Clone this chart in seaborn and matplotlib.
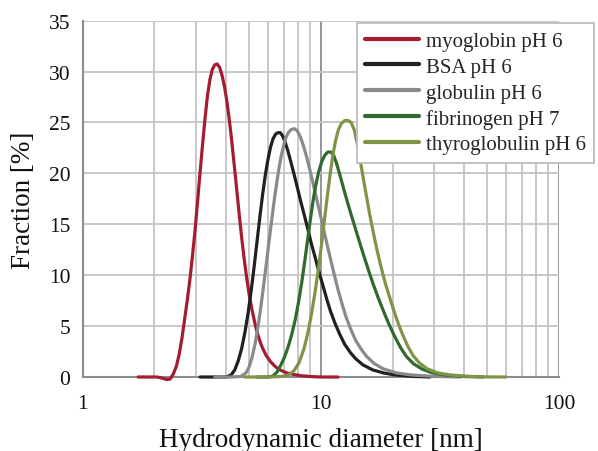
import numpy as np
import pandas as pd
import matplotlib
matplotlib.use("Agg")
import matplotlib.pyplot as plt
from matplotlib.ticker import LogLocator, FixedLocator, NullFormatter
import seaborn as sns

# Size distributions (hydrodynamic diameter in nm, fraction in %)
myo_d = [1.71, 1.90, 2.05, 2.15, 2.25, 2.33, 2.40, 2.47, 2.54, 2.61, 2.68, 2.75, 2.82, 2.89,
         2.96, 3.03, 3.10, 3.18, 3.26, 3.34, 3.42, 3.50, 3.58, 3.67, 3.76, 3.85, 3.94, 4.03,
         4.12, 4.22, 4.32, 4.43, 4.54, 4.65, 4.77, 4.89, 5.01, 5.14, 5.27, 5.40, 5.55, 5.70,
         5.90, 6.15, 6.45, 6.80, 7.20, 7.70, 8.30, 9.00, 10.0, 11.8]
myo_f = [0.0, 0.0, 0.0, -0.1, -0.25, -0.2, 0.3, 1.0, 2.2, 3.8, 5.7, 7.6, 9.6, 11.9,
         14.3, 17.0, 19.7, 22.6, 25.3, 27.6, 29.2, 30.2, 30.65, 30.75, 30.4, 29.6, 28.5, 27.1,
         25.4, 23.3, 21.0, 18.5, 16.0, 13.7, 11.5, 9.6, 8.0, 6.6, 5.4, 4.4, 3.5, 2.8,
         2.1, 1.5, 1.0, 0.65, 0.4, 0.25, 0.12, 0.05, 0.0, 0.0]

bsa_d = [3.11, 3.60, 4.00, 4.20, 4.35, 4.50, 4.65, 4.80, 4.95, 5.10, 5.25, 5.40, 5.55, 5.70,
         5.85, 6.00, 6.15, 6.30, 6.45, 6.60, 6.75, 6.90, 7.05, 7.25, 7.45, 7.70, 7.95, 8.20,
         8.50, 8.80, 9.10, 9.45, 9.80, 10.2, 10.6, 11.0, 11.5, 12.0, 12.6, 13.3, 14.0, 15.0,
         16.5, 18.3, 20.5, 24.0, 28.7]
bsa_f = [0.0, 0.0, 0.0, 0.2, 0.7, 1.6, 2.8, 4.4, 6.3, 8.5, 10.9, 13.4, 15.8, 18.0,
         19.9, 21.4, 22.6, 23.4, 23.85, 24.0, 24.0, 23.7, 23.2, 22.3, 21.3, 20.0, 18.7, 17.4,
         16.0, 14.6, 13.2, 11.8, 10.4, 9.0, 7.6, 6.4, 5.2, 4.2, 3.2, 2.4, 1.8, 1.2,
         0.7, 0.4, 0.2, 0.07, 0.0]

glob_d = [3.59, 4.20, 4.60, 4.85, 5.00, 5.15, 5.30, 5.45, 5.60, 5.75, 5.90, 6.05, 6.20, 6.35,
          6.50, 6.65, 6.80, 6.95, 7.10, 7.30, 7.50, 7.73, 7.95, 8.20, 8.45, 8.72, 9.00, 9.30,
          9.60, 9.91, 10.25, 10.6, 11.0, 11.4, 11.8, 12.3, 12.8, 13.4, 14.0, 14.8, 15.6, 16.8,
          18.3, 20.8, 24.0, 30.0, 38.4]
glob_f = [0.0, 0.0, 0.05, 0.4, 1.0, 2.0, 3.3, 5.0, 6.9, 9.0, 11.1, 13.2, 15.2, 17.1,
          18.8, 20.3, 21.6, 22.6, 23.4, 24.0, 24.3, 24.4, 24.2, 23.6, 22.7, 21.6, 20.3, 18.9,
          17.5, 16.1, 14.6, 13.1, 11.5, 10.0, 8.6, 7.1, 5.8, 4.6, 3.6, 2.7, 2.0, 1.3,
          0.8, 0.4, 0.2, 0.06, 0.0]

fib_d = [5.38, 6.00, 6.30, 6.55, 6.80, 7.05, 7.30, 7.55, 7.80, 8.05, 8.30, 8.55, 8.80, 9.05,
         9.30, 9.55, 9.80, 10.1, 10.4, 10.7, 11.0, 11.3, 11.6, 11.9, 12.2, 12.6, 13.0, 13.5,
         14.0, 14.6, 15.2, 15.9, 16.6, 17.4, 18.3, 19.3, 20.4, 21.6, 22.9, 24.5, 26.5, 29.0,
         33.0, 40.0, 48.0]
fib_f = [0.0, 0.0, 0.1, 0.5, 1.2, 2.0, 3.0, 4.2, 5.6, 7.3, 9.2, 11.3, 13.5, 15.6,
         17.5, 19.0, 20.2, 21.2, 21.8, 22.1, 22.1, 21.8, 21.1, 20.2, 19.3, 18.1, 17.0, 15.7,
         14.5, 13.1, 11.8, 10.4, 9.1, 7.8, 6.5, 5.2, 4.0, 2.9, 2.0, 1.3, 0.8, 0.45,
         0.2, 0.05, 0.0]

thy_d = [4.80, 6.00, 6.80, 7.30, 7.70, 8.10, 8.50, 8.85, 9.15, 9.45, 9.75, 10.05, 10.35, 10.65,
         10.95, 11.25, 11.55, 11.85, 12.2, 12.6, 13.0, 13.4, 13.8, 14.2, 14.6, 15.0, 15.5, 16.0,
         16.6, 17.2, 17.9, 18.6, 19.4, 20.2, 21.1, 22.1, 23.2, 24.4, 26.0, 28.0, 31.0, 35.0,
         42.0, 50.0, 59.6]
thy_f = [0.0, 0.0, 0.05, 0.2, 0.6, 1.4, 2.8, 4.5, 6.3, 8.3, 10.5, 12.9, 15.4, 17.8,
         20.0, 21.9, 23.3, 24.3, 24.9, 25.2, 25.2, 25.0, 24.3, 23.0, 21.4, 19.8, 17.9, 16.1,
         14.2, 12.5, 10.8, 9.3, 7.9, 6.6, 5.3, 4.1, 3.0, 2.1, 1.35, 0.8, 0.4, 0.2,
         0.06, 0.01, 0.0]

labels = ["myoglobin pH 6", "BSA pH 6", "globulin pH 6", "fibrinogen pH 7", "thyroglobulin pH 6"]
colors = ["#A51C30", "#231F20", "#8A8A8D", "#2F6B2F", "#7F9446"]
y_ticks = [0, 5, 10, 15, 20, 25, 30, 35]
x_ticks = [1, 10, 100]

series = [(myo_d, myo_f), (bsa_d, bsa_f), (glob_d, glob_f), (fib_d, fib_f), (thy_d, thy_f)]
df = pd.concat(
    [pd.DataFrame({"d": d, "f": f, "protein": lab}) for (d, f), lab in zip(series, labels)],
    ignore_index=True,
)

sns.set_style("white")
plt.rcParams["font.family"] = ["Liberation Serif", "DejaVu Serif"]

fig = plt.figure(figsize=(5.98, 4.52), dpi=100)
ax = fig.add_axes([0.1383, 0.1637, 0.7965, 0.7883])

sns.lineplot(data=df, x="d", y="f", hue="protein", hue_order=labels,
             palette=dict(zip(labels, colors)), estimator=None, sort=False,
             linewidth=2.3, ax=ax, legend=False, clip_on=False, zorder=5)

ax.set_xscale("log")
ax.set_xlim(1, 100)
ax.set_ylim(0, 35)
ax.xaxis.set_major_locator(FixedLocator(x_ticks))
ax.set_xticklabels([str(t) for t in x_ticks])
ax.xaxis.set_minor_locator(LogLocator(base=10, subs=range(2, 10)))
ax.xaxis.set_minor_formatter(NullFormatter())
ax.set_yticks(y_ticks)

grid_light = "#C4C4C6"
axis_gray = "#8C8C8E"
ax.grid(which="minor", axis="x", color=grid_light, linewidth=1.3, zorder=0)
ax.grid(which="major", axis="x", color=axis_gray, linewidth=1.3, zorder=0)
ax.grid(which="major", axis="y", color=grid_light, linewidth=1.3, zorder=0)
ax.set_axisbelow(True)

for side in ["top", "right"]:
    ax.spines[side].set_visible(False)
for side in ["left", "bottom"]:
    ax.spines[side].set_color(axis_gray)
    ax.spines[side].set_linewidth(1.5)

ax.tick_params(axis="both", which="major", direction="out", length=5, width=1.3,
               color=axis_gray, labelsize=15.5, labelcolor="#111111", pad=4)
ax.tick_params(axis="x", which="minor", length=0)
ax.tick_params(axis="x", which="major", length=6, pad=6)

ax.set_xlabel("Hydrodynamic diameter [nm]", fontsize=19.5, color="#111111", labelpad=10)
ax.set_ylabel("Fraction [%]", fontsize=19.5, color="#111111", labelpad=9)

handles = [plt.Line2D([], [], color=c, linewidth=3.0) for c in colors]
leg = fig.legend(handles, labels, loc="upper left",
                 bbox_to_anchor=(356.5 / 598, 1 - 23.5 / 452),
                 fontsize=15, frameon=True, fancybox=False, framealpha=1,
                 edgecolor="#BDBDBF", handlelength=2.6, handletextpad=0.3,
                 labelspacing=0.3, borderpad=0.42, borderaxespad=0)
leg.get_frame().set_linewidth(1.3)

fig.savefig("out.png", dpi=100)
